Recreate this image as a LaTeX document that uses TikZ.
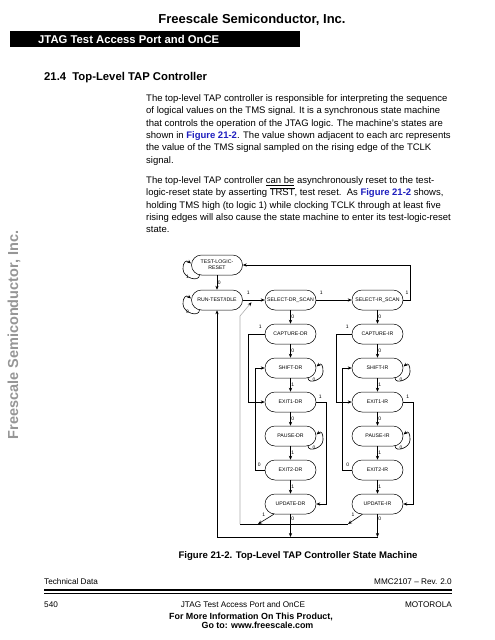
\documentclass[tikz,border=0pt]{standalone}
\usepackage{fontspec}
\setmainfont{Liberation Sans}
\usetikzlibrary{arrows.meta,calc}
\definecolor{linkblue}{RGB}{30,30,190}
\definecolor{sidegray}{RGB}{150,150,150}
\definecolor{wiregray}{RGB}{175,175,175}
\newcommand\myrloop[2]{%
  \draw[arr] ($(#1.center)+(17.5,9.8)$) node[lab,xshift=6pt,yshift=-2.2pt]{#2}
    .. controls +(0,7) and +(0,8) .. ($(#1.center)+(32.5,4)$)
    .. controls +(0,-7) and +(5,-4) .. ($(#1.center)+(26,-1.5)$);}
\newcommand\mylloop[2]{%
  \draw[arr] ($(#1.center)+(-17.5,9.8)$) node[lab,xshift=-12pt,yshift=-1.5pt]{#2}
    .. controls +(0,8) and +(0,9) .. ($(#1.center)+(-34,4)$)
    .. controls +(0,-7) and +(-5,-4) .. ($(#1.center)+(-26,-1.5)$);}
\newcommand\lnk[1]{\textcolor{linkblue}{\bfseries #1}}
\begin{document}
\begin{tikzpicture}[x=1pt,y=-1pt,
  state/.style={draw, line width=0.5pt, rounded corners=10pt, minimum width=51pt,
    minimum height=20pt, inner sep=0pt, font=\fontsize{5.2}{5.8}\selectfont, align=center},
  wire/.style={line width=0.6pt},
  arr/.style={wire, -{Stealth[length=4pt,width=3.2pt]}},
  lab/.style={font=\fontsize{5}{5}\selectfont, inner sep=0.6pt},
  body/.style={anchor=base west, inner sep=0pt, font=\fontsize{9.5}{11}\selectfont},
  foot/.style={inner sep=0pt, font=\fontsize{8.2}{9}\selectfont},
]
\useasboundingbox (0,0) rectangle (495,640);
\fill[white] (0,0) rectangle (495,640);

% header
\node[anchor=base, inner sep=0pt, font=\fontsize{13}{13}\selectfont\bfseries] (hdr) at (252,23.6) {Freescale Semiconductor, Inc.};
\fill[black] (10,31) rectangle (300,47);
\node[anchor=base west, inner sep=0pt, text=white, font=\fontsize{11.3}{11}\selectfont\bfseries] (bar) at (38,43) {JTAG Test Access Port and OnCE};
\node[anchor=base west, inner sep=0pt, font=\fontsize{11.3}{11}\selectfont\bfseries] (sec) at (44,80) {21.4\hspace{0.55em}Top-Level TAP Controller};

% side text
\node[rotate=90, inner sep=0pt, text=sidegray, font=\fontsize{14.5}{14}\selectfont\bfseries] (side) at (14,335) {Freescale Semiconductor, Inc.};

% body text
\node[body] (p1a) at (146,101.5) {The top-level TAP controller is responsible for interpreting the sequence};
\node[body] (p1b) at (146,113.85) {of logical values on the TMS signal. It is a synchronous state machine};
\node[body] (p1c) at (146,126.2) {that controls the operation of the JTAG logic. The machine’s states are};
\node[body] (p1d) at (146,138.55) {shown in \lnk{Figure 21-2}. The value shown adjacent to each arc represents};
\node[body] (p1e) at (146,150.9) {the value of the TMS signal sampled on the rising edge of the TCLK};
\node[body] (p1f) at (146,163.25) {signal.};
\node[body] (p2a) at (146,183.5) {The top-level TAP controller \underline{can be} asynchronously reset to the test-};
\node[body] (p2b) at (146,195.85) {logic-reset state by asserting $\overline{\mbox{TRST}}$, test reset.\ \ As \lnk{Figure 21-2} shows,};
\node[body] (p2c) at (146,208.2) {holding TMS high (to logic 1) while clocking TCLK through at least five};
\node[body] (p2d) at (146,220.55) {rising edges will also cause the state machine to enter its test-logic-reset};
\node[body] (p2e) at (146,232.9) {state.};

% states
\node[state] (tlr) at (217,265) {TEST-LOGIC-\\RESET};
\node[state] (rti) at (217,300) {RUN-TEST/IDLE};
\node[state] (sdr) at (290.5,300) {SELECT-DR\_SCAN};
\node[state] (cdr) at (290.5,334) {CAPTURE-DR};
\node[state] (shdr) at (290.5,368) {SHIFT-DR};
\node[state] (e1dr) at (290.5,402) {EXIT1-DR};
\node[state] (pdr) at (290.5,436) {PAUSE-DR};
\node[state] (e2dr) at (290.5,470) {EXIT2-DR};
\node[state] (udr) at (290.5,504) {UPDATE-DR};
\node[state] (sir) at (377.5,300) {SELECT-IR\_SCAN};
\node[state] (cir) at (377.5,334) {CAPTURE-IR};
\node[state] (shir) at (377.5,368) {SHIFT-IR};
\node[state] (e1ir) at (377.5,402) {EXIT1-IR};
\node[state] (pir) at (377.5,436) {PAUSE-IR};
\node[state] (e2ir) at (377.5,470) {EXIT2-IR};
\node[state] (uir) at (377.5,504) {UPDATE-IR};

% vertical transitions
\draw[arr] (tlr) -- node[lab,right]{0} (rti);
\draw[arr] (sdr) -- node[lab,right]{0} (cdr);
\draw[arr] (cdr) -- node[lab,right]{0} (shdr);
\draw[arr] (shdr) -- node[lab,right]{1} (e1dr);
\draw[arr] (e1dr) -- node[lab,right]{0} (pdr);
\draw[arr] (pdr) -- node[lab,right]{1} (e2dr);
\draw[arr] (e2dr) -- node[lab,right]{1} (udr);
\draw[arr] (sir) -- node[lab,right]{0} (cir);
\draw[arr] (cir) -- node[lab,right]{0} (shir);
\draw[arr] (shir) -- node[lab,right]{1} (e1ir);
\draw[arr] (e1ir) -- node[lab,right]{0} (pir);
\draw[arr] (pir) -- node[lab,right]{1} (e2ir);
\draw[arr] (e2ir) -- node[lab,right]{1} (uir);

% horizontal transitions
\draw[arr] (rti) -- node[lab,pos=0.25,yshift=7pt]{1} (sdr);
\draw[arr] (sdr) -- node[lab,pos=0.14,yshift=7pt]{1} (sir);
\draw[arr] (sir.east) -- node[lab,yshift=7pt]{1} ++(7.5,0) |- (tlr.east);

% side branches DR
\draw[arr] (cdr.west) -- node[lab,pos=0.27,yshift=7pt]{1} ++(-16.5,0) |- (e1dr.west);
\draw[arr] (e2dr.west) -- node[lab,pos=0.6,yshift=5.5pt]{0} ++(-9,0) |- (shdr.west);
\draw[arr] (e1dr.east) -- node[lab,pos=0.38,yshift=5.5pt]{1} ++(10.5,0) |- (udr.east);
% side branches IR
\draw[arr] (cir.west) -- node[lab,pos=0.29,yshift=7pt]{1} ++(-15.5,0) |- (e1ir.west);
\draw[arr] (e2ir.west) -- node[lab,pos=0.42,yshift=5.5pt]{0} ++(-9.5,0) |- (shir.west);
\draw[arr] (e1ir.east) -- node[lab,pos=0.43,yshift=5.5pt]{1} ++(10.5,0) |- (uir.east);

% self loops
\mylloop{tlr}{1}
\mylloop{rti}{0}
\myrloop{shdr}{0}
\myrloop{pdr}{0}
\myrloop{shir}{0}
\myrloop{pir}{0}

% update -> select-DR (1)
\coordinate (j1) at (258,524);
\coordinate (j2) at (348,524);
\coordinate (bl) at (240,524);
\coordinate (bt) at (240,316);
\coordinate (mrg) at (251.5,302.3);
\draw[arr] (udr) -- node[lab,pos=0.45,xshift=-3pt,yshift=3.5pt]{1} (j1);
\draw[arr] (uir) -- node[lab,pos=0.45,xshift=-3pt,yshift=3.5pt]{1} (j2);
\draw[wire] (j2) -- (bl);
\draw[wire, draw=wiregray, -{Stealth[length=4pt,width=3.2pt,color=black]}] (bl) -- (bt) -- (mrg);

% update -> run-test/idle (0)
\coordinate (k1) at (290.5,537);
\coordinate (k2) at (377.5,537);
\coordinate (kl) at (217,537);
\draw[arr] (udr) -- node[lab,right,pos=0.22]{0} (k1);
\draw[arr] (uir) -- node[lab,right,pos=0.22]{0} (k2);
\draw[arr] (k2) -- (kl) -- (rti);

% caption
\node[anchor=base, inner sep=0pt, font=\fontsize{9.6}{10}\selectfont\bfseries] (cap) at (298,558.5) {Figure 21-2. Top-Level TAP Controller State Machine};

% footer
\node[foot, anchor=base west] (ftl) at (44,584) {Technical Data};
\node[foot, anchor=base east] (ftr) at (452,584) {MMC2107 -- Rev. 2.0};
\draw[line width=1.6pt] (ftl.base west |- 0,590) -- (ftr.base east |- 0,590);
\draw[line width=0.5pt] (ftl.base west |- 0,593) -- (ftr.base east |- 0,593);
\node[foot, anchor=base west] (fbl) at (44,607) {540};
\node[foot, anchor=base] (fbc) at (243,607) {JTAG Test Access Port and OnCE};
\node[foot, anchor=base east] (fbr) at (452,607) {MOTOROLA};
\node[anchor=base, inner sep=0pt, font=\fontsize{8.9}{9}\selectfont\bfseries] (fm1) at (251,619) {For More Information On This Product,};
\node[anchor=base, inner sep=0pt, font=\fontsize{8.9}{9}\selectfont\bfseries] (fm2) at (257.5,628.5) {Go to: www.freescale.com};
\end{tikzpicture}
\end{document}
